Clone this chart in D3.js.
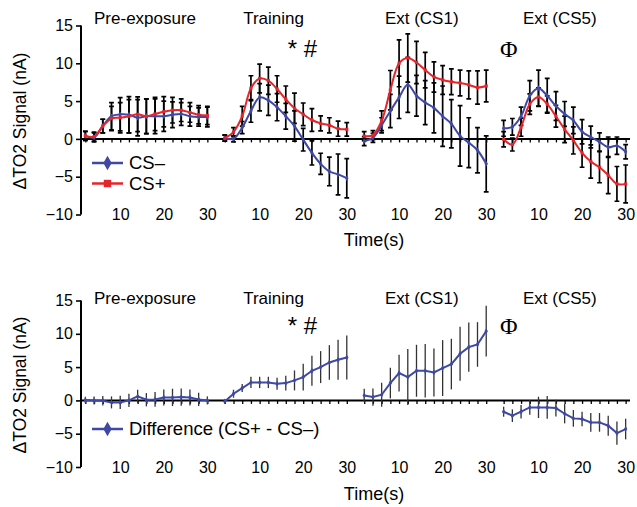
<!DOCTYPE html>
<html>
<head>
<meta charset="utf-8">
<script src="https://cdn.jsdelivr.net/npm/d3@7"></script>
<style>
  body { margin: 0; background: #fff; }
  svg { display: block; font-family: 'Liberation Sans', Arial, Helvetica, sans-serif; }
</style>
</head>
<body>
<div id="chart--wrap"></div>
<script>
// Data
const sessions = ['Pre-exposure', 'Training', 'Ext (CS1)', 'Ext (CS5)'];
const times = [2, 4, 6, 8, 10, 12, 14, 16, 18, 20, 22, 24, 26, 28, 30];
const timeTicks = [10, 20, 30];
const yTicks = [-10, -5, 0, 5, 10, 15];

const csMinus = [
  [0.4, 0.2, 1.7, 3.0, 3.25, 3.2, 2.8, 3.0, 3.0, 3.0, 3.2, 3.3, 3.0, 2.9, 2.9],
  [0.1, 0.0, 1.5, 3.7, 5.5, 5.1, 4.2, 3.0, 1.7, -0.1, -1.85, -3.3, -4.3, -4.7, -5.2],
  [-0.3, 0.15, 1.8, 3.7, 5.5, 7.15, 5.7, 4.8, 4.1, 3.0, 2.0, 0.4, -0.5, -1.5, -3.3],
  [1.4, 1.6, 3.0, 5.7, 6.7, 5.7, 4.35, 3.3, 2.45, 0.95, 0.25, -0.4, -1.1, -0.9, -1.7]
];
const csMinusErr = [
  [0.6, 0.6, 0.9, 1.8, 2.2, 2.4, 2.4, 2.3, 2.3, 2.0, 1.7, 1.5, 1.3, 1.2, 1.3],
  [0.4, 0.4, 0.8, 1.5, 1.8, 2.0, 1.8, 1.7, 2.0, 1.5, 1.6, 1.4, 1.9, 2.7, 2.6],
  [0.6, 0.6, 1.0, 2.2, 2.8, 3.65, 2.7, 2.9, 3.3, 4.0, 3.2, 4.0, 3.3, 3.0, 3.7],
  [1.05, 1.1, 1.2, 2.0, 2.4, 2.3, 1.9, 1.65, 1.75, 1.6, 1.45, 1.2, 1.35, 1.15, 0.95]
];
const csPlus = [
  [0.4, 0.3, 1.7, 2.7, 2.8, 3.0, 3.25, 3.0, 3.3, 3.6, 3.8, 3.8, 3.5, 3.2, 3.1],
  [0.1, 0.9, 3.0, 6.7, 8.0, 7.7, 6.6, 5.25, 4.05, 3.25, 2.5, 2.05, 1.8, 1.35, 1.26],
  [0.37, 0.5, 2.4, 6.45, 10.0, 10.7, 10.1, 9.1, 8.2, 7.8, 7.55, 7.4, 7.15, 6.8, 7.0],
  [-0.05, -0.75, 1.55, 4.6, 5.55, 4.6, 3.0, 1.26, -0.2, -1.85, -3.0, -3.75, -4.8, -5.95, -5.95]
];
const csPlusErr = [
  [0.6, 0.6, 0.9, 1.6, 2.0, 2.2, 2.3, 2.3, 2.2, 2.0, 1.7, 1.5, 1.3, 1.2, 1.2],
  [0.4, 0.6, 1.3, 1.65, 1.9, 1.8, 1.75, 1.75, 2.0, 1.5, 1.5, 1.0, 1.0, 1.0, 0.9],
  [0.6, 0.6, 1.3, 2.6, 3.1, 3.2, 2.8, 2.35, 2.0, 1.9, 1.7, 1.7, 1.85, 2.2, 2.1],
  [1.0, 0.85, 1.2, 1.35, 1.2, 1.1, 1.45, 1.75, 1.8, 1.9, 2.2, 2.05, 2.45, 2.3, 2.5]
];
const difference = [
  [0.05, 0.0, -0.05, -0.3, -0.3, 0.0, 0.6, 0.1, 0.15, 0.45, 0.45, 0.5, 0.45, 0.15, 0.0],
  [-0.15, 1.0, 1.85, 2.7, 2.7, 2.7, 2.5, 2.6, 3.0, 3.5, 4.45, 5.0, 5.7, 6.1, 6.45],
  [0.75, 0.5, 0.85, 2.6, 4.1, 3.5, 4.45, 4.45, 4.2, 4.85, 5.45, 7.0, 8.0, 8.4, 10.4],
  [-1.7, -2.3, -1.7, -1.05, -1.05, -1.05, -1.15, -2.0, -2.7, -2.8, -3.3, -3.3, -3.8, -4.9, -4.3]
];
const differenceErr = [
  [0.5, 0.6, 0.7, 0.9, 1.0, 1.0, 1.0, 1.0, 1.1, 1.2, 1.3, 1.3, 1.2, 1.0, 0.6],
  [0.3, 0.6, 0.6, 0.85, 0.85, 0.85, 0.9, 1.1, 1.5, 2.0, 2.25, 2.4, 2.6, 3.0, 3.3],
  [1.0, 1.3, 1.8, 2.3, 2.75, 4.2, 3.9, 4.0, 3.6, 4.2, 3.8, 4.05, 3.7, 3.35, 3.8],
  [0.75, 0.95, 1.0, 1.1, 1.6, 1.7, 1.25, 1.45, 1.25, 1.1, 1.4, 1.4, 1.5, 1.75, 1.55]
];

// Layout
const width = 637;
const height = 507;
const segLen = 32;            // seconds per session block on the shared axis
const titleAt = [15.7, 13.2, 15.2, 14.9];
const blue = '#3f49a3';
const red = '#e5242b';

const x = d3.scaleLinear().domain([1, 127]).range([81, 630]);
const gx = (s, t) => x(s * segLen + t);

const panels = [
  {
    y: d3.scaleLinear().domain([-10, 15]).range([214.5, 25.5]),
    titleY: 24, markY: 57, timeY: 246, axisTitleY: 121, legendY: 163,
    curve: d3.curveCatmullRom.alpha(0.5),
    capW: 2.4, errColor: '#000', errWidth: 1.7,
    series: [
      { name: 'CS\u2013', vals: csMinus, errs: csMinusErr, color: blue, marker: 'diamond' },
      { name: 'CS+', vals: csPlus, errs: csPlusErr, color: red, marker: 'square' }
    ]
  },
  {
    y: d3.scaleLinear().domain([-10, 15]).range([467, 300.5]),
    titleY: 304, markY: 334, timeY: 500, axisTitleY: 385, legendY: 429,
    curve: d3.curveLinear,
    capW: 0, errColor: '#333', errWidth: 1.3,
    series: [
      { name: 'Difference (CS+ - CS\u2013)', vals: difference, errs: differenceErr, color: blue, marker: 'diamond' }
    ]
  }
];

const svg = d3.select('#chart--wrap').append('svg')
  .attr('width', width)
  .attr('height', height);

const symbolFor = (m, size) => d3.symbol()
  .type(m === 'square' ? d3.symbolSquare : d3.symbolDiamond)
  .size(size);

panels.forEach(p => {
  const g = svg.append('g');
  const y = p.y;

  // Y axis
  g.append('g')
    .attr('transform', `translate(${x(1)},0)`)
    .call(d3.axisLeft(y).tickValues(yTicks).tickSize(5).tickPadding(3)
      .tickFormat(d => d < 0 ? '\u2212' + Math.abs(d) : d))
    .call(a => a.select('.domain').attr('stroke-width', 2).attr('d', `M0,${y(15)}V${y(-10)}`))
    .call(a => a.selectAll('.tick line').attr('stroke-width', 1.6))
    .call(a => a.selectAll('text').attr('font-size', 16).attr('fill', '#000')
      .attr('font-family', "'Liberation Sans', Arial, sans-serif"));

  g.append('text')
    .attr('transform', `translate(25.5,${p.axisTitleY}) rotate(-90)`)
    .attr('text-anchor', 'middle')
    .attr('font-size', 17.5)
    .text('\u0394TO2 Signal (nA)');

  // Zero line with small ticks at each sample
  const zeroTicks = [];
  sessions.forEach((s, i) => times.forEach(t => zeroTicks.push(i * segLen + t)));
  g.append('g')
    .attr('transform', `translate(0,${y(0)})`)
    .call(d3.axisBottom(x).tickValues(zeroTicks).tickSize(3.5).tickFormat(''))
    .call(a => a.select('.domain').attr('stroke-width', 2).attr('d', `M${x(1)},0H${x(127)}`))
    .call(a => a.selectAll('.tick line').attr('stroke-width', 1.3));

  // Time tick labels
  const labelTicks = [];
  sessions.forEach((s, i) => timeTicks.forEach(t => labelTicks.push(i * segLen + t)));
  g.append('g')
    .attr('transform', `translate(0,${y(-10)})`)
    .call(d3.axisBottom(x).tickValues(labelTicks).tickSize(0).tickPadding(0)
      .tickFormat(d => d - Math.floor((d - 1) / segLen) * segLen))
    .call(a => a.select('.domain').remove())
    .call(a => a.selectAll('text').attr('dy', '0.35em').attr('font-size', 16).attr('fill', '#000')
      .attr('font-family', "'Liberation Sans', Arial, sans-serif"));

  g.append('text')
    .attr('x', 374)
    .attr('y', p.timeY)
    .attr('text-anchor', 'middle')
    .attr('font-size', 18)
    .text('Time(s)');

  // Session titles
  g.selectAll('.session')
    .data(sessions)
    .enter()
    .append('text')
    .attr('x', (d, i) => gx(i, titleAt[i]))
    .attr('y', p.titleY)
    .attr('text-anchor', 'middle')
    .attr('font-size', 17)
    .text(d => d);

  // Significance marks
  g.append('text')
    .attr('x', gx(1, 19.8))
    .attr('y', p.markY)
    .attr('text-anchor', 'middle')
    .attr('font-size', 24)
    .text('* #');
  g.append('text')
    .attr('x', gx(3, 3.2))
    .attr('y', p.markY)
    .attr('text-anchor', 'middle')
    .attr('font-size', 24)
    .attr('font-family', "'Liberation Serif', 'Times New Roman', serif")
    .text('\u03A6');

  // Error bars
  p.series.forEach(ser => {
    ser.vals.forEach((vals, s) => {
      const bars = g.append('g');
      vals.forEach((v, k) => {
        const cx = gx(s, times[k]);
        const lo = y(v - ser.errs[s][k]);
        const hi = y(v + ser.errs[s][k]);
        let d = `M${cx},${lo}V${hi}`;
        if (p.capW) d += `M${cx - p.capW},${lo}H${cx + p.capW}M${cx - p.capW},${hi}H${cx + p.capW}`;
        bars.append('path')
          .attr('d', d)
          .attr('stroke', p.errColor)
          .attr('stroke-width', p.errWidth)
          .attr('fill', 'none');
      });
    });
  });

  // Lines and markers
  const line = d3.line()
    .x(d => gx(d.s, d.t))
    .y(d => y(d.v))
    .curve(p.curve);

  p.series.forEach(ser => {
    ser.vals.forEach((vals, s) => {
      const pts = vals.map((v, k) => ({ s: s, t: times[k], v: v }));
      g.append('path')
        .attr('d', line(pts))
        .attr('fill', 'none')
        .attr('stroke', ser.color)
        .attr('stroke-width', 2);
      g.selectAll(null)
        .data(pts)
        .enter()
        .append('path')
        .attr('transform', d => `translate(${gx(d.s, d.t)},${y(d.v)})`)
        .attr('d', symbolFor(ser.marker, 10))
        .attr('fill', ser.color);
    });
  });

  // Legend
  p.series.forEach((ser, i) => {
    const ly = p.legendY + i * 20.5;
    const lg = g.append('g').attr('transform', `translate(0,${ly})`);
    lg.append('line')
      .attr('x1', 92).attr('x2', 123)
      .attr('stroke', ser.color)
      .attr('stroke-width', 2.5);
    lg.append('path')
      .attr('transform', 'translate(107.5,0)')
      .attr('d', symbolFor(ser.marker, ser.marker === 'square' ? 55 : 60))
      .attr('fill', ser.color);
    lg.append('text')
      .attr('x', 129)
      .attr('dy', '0.35em')
      .attr('font-size', 18.5)
      .text(ser.name);
  });
});
</script>
</body>
</html>
